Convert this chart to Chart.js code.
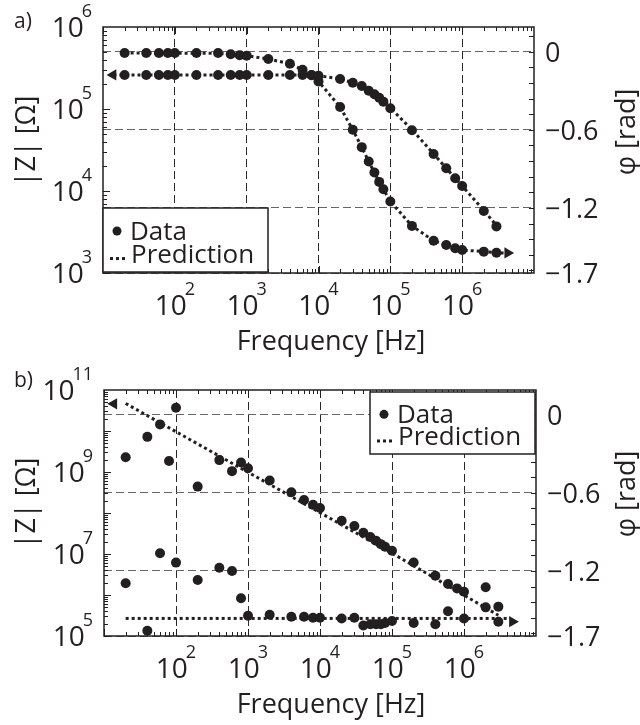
<!DOCTYPE html>
<html>
<head>
<meta charset="utf-8">
<title>Impedance spectra</title>
<script src="https://cdn.jsdelivr.net/npm/chart.js@4.4.1/dist/chart.umd.min.js"></script>
<style>
  body { margin: 0; background: #fff; }
  canvas { display: block; }
</style>
</head>
<body>
<canvas id="chartA" width="640" height="362"></canvas>
<canvas id="chartB" width="640" height="363"></canvas>
<script>
// measured frequencies (same sweep for both panels)
const freq = [20, 40, 60, 80, 100, 200, 400, 600, 800, 1e3, 2e3, 4e3, 6e3, 8e3, 1e4,
              2e4, 3e4, 4e4, 5e4, 6e4, 7e4, 8e4, 1e5, 2e5, 4e5, 6e5, 8e5, 1e6, 2e6, 3e6];

// panel a) data
const magA = [2.6e5, 2.6e5, 2.6e5, 2.6e5, 2.6e5, 2.6e5, 2.6e5, 2.6e5, 2.6e5, 2.6e5, 2.6e5, 2.6e5, 2.6e5, 2.6e5, 2.55e5,
              2.32e5, 2.09e5, 1.91e5, 1.67e5, 1.51e5, 1.37e5, 1.23e5, 1.02e5, 5.5e4, 2.83e4, 1.89e4, 1.43e4, 1.15e4, 5.7e3, 3.7e3];
const phaseA = [-0.01, -0.01, -0.01, -0.01, -0.01, -0.01, -0.01, -0.02, -0.027, -0.03, -0.056, -0.092, -0.138, -0.18, -0.228,
                -0.425, -0.6, -0.733, -0.844, -0.928, -1.0, -1.056, -1.151, -1.338, -1.452, -1.485, -1.51, -1.523, -1.536, -1.544];

// panel a) prediction
const predMagFreqA = [14, 1e3, 8e3, 1e4, 2e4, 3e4, 4e4, 5e4, 6e4, 7e4, 8e4, 1e5, 2e5, 4e5, 6e5, 8e5, 1e6, 2e6, 3e6];
const predMagA = [2.6e5, 2.6e5, 2.6e5, 2.55e5, 2.32e5, 2.1e5, 1.9e5, 1.68e5, 1.5e5, 1.37e5, 1.24e5, 1.03e5, 5.6e4, 2.85e4, 1.9e4, 1.43e4, 1.15e4, 5.8e3, 3.8e3];
const predPhaseFreqA = [20, 400, 1e3, 2e3, 4e3, 6e3, 8e3, 1e4, 2e4, 3e4, 4e4, 5e4, 6e4, 7e4, 8e4, 1e5, 2e5, 4e5, 6e5, 8e5, 1e6, 2e6, 3e6, 4e6];
const predPhaseA = [-0.01, -0.012, -0.03, -0.056, -0.092, -0.138, -0.18, -0.228, -0.425, -0.6, -0.733, -0.844, -0.928, -1.0, -1.056, -1.151,
                    -1.338, -1.452, -1.485, -1.51, -1.523, -1.536, -1.544, -1.548];

// panel b) data
const magB = [2.28e9, 7.2e9, 1.45e10, 1.86e9, 3.7e10, 4.4e8, 1.95e9, 1.05e9, 1.7e9, 1.23e9, 6.2e8, 3.2e8, 2.08e8, 1.58e8, 1.32e8,
              6.5e7, 4.8e7, 3.3e7, 2.6e7, 2.1e7, 1.74e7, 1.5e7, 1.2e7, 6.2e6, 2.95e6, 1.86e6, 1.45e6, 1.2e6, 5.0e5, 5.2e5];
const phaseB = [-1.295, -1.66, -1.064, null, -1.136, -1.27, -1.175, -1.2, -1.41, -1.544, -1.537, -1.552, -1.552, -1.56, -1.56,
                -1.565, -1.56, -1.62, -1.61, -1.61, -1.61, -1.6, -1.585, -1.6, -1.61, -1.51, null, -1.565, -1.325, -1.59];

// panel b) prediction
const predMagFreqB = [20, 1e5, 3e6];
const predMagB = [4.7e10, 1.05e7, 3.2e5];
const predPhaseFreqB = [20, 4e6];
const predPhaseB = [-1.565, -1.565];

// axis ticks
const xDecades = [1e2, 1e3, 1e4, 1e5, 1e6];
const xExp = [2, 3, 4, 5, 6];
const zExpA = [3, 4, 5, 6];
const zExpB = [5, 7, 9, 11];
const phaseTicks = [0, -0.6, -1.2, -1.7];
const phaseLabels = ['0', '\u22120.6', '\u22121.2', '\u22121.7'];

const FONT = '"Open Sans", "DejaVu Sans", sans-serif';
const INK = '#231f20';

function pts(xs, ys) {
  return xs.map((f, i) => ({ x: f, y: ys[i] })).filter(p => p.y !== null);
}

function powLabel(ctx, exp, x, base, align) {
  ctx.font = '28px ' + FONT;
  const w10 = ctx.measureText('10').width;
  ctx.font = '18px ' + FONT;
  const ws = ctx.measureText(String(exp)).width;
  const tot = w10 + ws - 2;
  const x0 = align === 'right' ? x - tot : x - tot / 2;
  ctx.textAlign = 'left';
  ctx.textBaseline = 'alphabetic';
  ctx.font = '28px ' + FONT;
  ctx.fillText('10', x0, base);
  ctx.font = '18px ' + FONT;
  ctx.fillText(String(exp), x0 + w10 - 2, base - 20);
}

function seg(ctx, x1, y1, x2, y2) {
  ctx.beginPath(); ctx.moveTo(x1, y1); ctx.lineTo(x2, y2); ctx.stroke();
}

function decor(o) {
  return {
    id: 'decor',
    afterDraw(chart) {
      const { ctx, chartArea: a, scales } = chart;
      const x = scales.x, yl = scales.yL, yr = scales.yR;
      ctx.save();
      ctx.fillStyle = INK;
      ctx.strokeStyle = INK;

      // tick marks, inward
      ctx.lineWidth = 1;
      for (let e = 1; e < 7; e++) {
        for (let m = 1; m < 10; m++) {
          const px = Math.round(x.getPixelForValue(m * Math.pow(10, e))) + 0.5;
          const len = m === 1 ? 7 : 4;
          seg(ctx, px, a.bottom, px, a.bottom - len);
          seg(ctx, px, a.top, px, a.top + len);
        }
      }
      for (let e = Math.log10(yl.min); e < Math.log10(yl.max); e++) {
        for (let m = 1; m < 10; m++) {
          const py = Math.round(yl.getPixelForValue(m * Math.pow(10, e))) + 0.5;
          seg(ctx, a.left, py, a.left + (m === 1 ? 7 : 4), py);
        }
      }
      for (let k = 1; k >= -14; k--) {
        const py = Math.round(yr.getPixelForValue(k * 0.12)) + 0.5;
        seg(ctx, a.right, py, a.right - 5, py);
      }

      // frame
      ctx.lineWidth = 1.5;
      ctx.strokeRect(a.left, a.top, a.right - a.left, a.bottom - a.top);

      // x tick labels
      xDecades.forEach((v, i) => powLabel(ctx, xExp[i], x.getPixelForValue(v), a.bottom + 42, 'center'));
      // left tick labels
      o.zExp.forEach(e => powLabel(ctx, e, a.left - 11, yl.getPixelForValue(Math.pow(10, e)) + 10, 'right'));
      // right tick labels
      ctx.font = '27px ' + FONT;
      ctx.textAlign = 'left';
      ctx.textBaseline = 'alphabetic';
      phaseTicks.forEach((v, i) => ctx.fillText(phaseLabels[i], a.right + 11, yr.getPixelForValue(v) + 10));

      // axis titles
      ctx.textAlign = 'center';
      ctx.fillText('Frequency [Hz]', 331, a.bottom + 77);
      ctx.textBaseline = 'middle';
      ctx.save();
      ctx.translate(27, o.zTitleY);
      ctx.rotate(-Math.PI / 2);
      ctx.fillText('|Z| [\u03A9]', 0, 0);
      ctx.restore();
      ctx.save();
      ctx.translate(627, o.phTitleY);
      ctx.rotate(-Math.PI / 2);
      ctx.fillText('\u03C6 [rad]', 0, 0);
      ctx.restore();

      // panel label
      ctx.font = '21px ' + FONT;
      ctx.textAlign = 'left';
      ctx.textBaseline = 'alphabetic';
      ctx.fillText(o.panel, 14, o.panelY);

      // legend
      const L = o.legend;
      ctx.fillStyle = '#fff';
      ctx.fillRect(L.x, L.y, L.w, L.h);
      ctx.lineWidth = 1.5;
      ctx.strokeRect(L.x, L.y, L.w, L.h);
      ctx.fillStyle = INK;
      ctx.beginPath();
      ctx.arc(L.x + 14, L.y + L.h * 0.36, 4.5, 0, Math.PI * 2);
      ctx.fill();
      for (let k = 0; k < 3; k++) ctx.fillRect(L.x + 7 + k * 6, L.y + L.h * 0.79 - 1.5, 3, 3);
      ctx.font = '26px ' + FONT;
      ctx.fillText('Data', L.x + 27, L.y + L.h * 0.36 + 9);
      ctx.fillText('Prediction', L.x + 28, L.y + L.h * 0.79 + 4);
      ctx.restore();
    }
  };
}

function datasets(mag, phase, pmf, pm, ppf, pp, arrows) {
  const dot = { showLine: false, pointRadius: 5, pointBackgroundColor: INK, pointBorderWidth: 0, pointHoverRadius: 5 };
  const pred = { showLine: true, pointRadius: 0, borderColor: INK, borderWidth: 3, borderDash: [3, 3], fill: false };
  return [
    Object.assign({ label: 'Data |Z|', data: pts(freq, mag), yAxisID: 'yL' }, dot),
    Object.assign({ label: 'Data phase', data: pts(freq, phase), yAxisID: 'yR' }, dot),
    { label: 'arrow |Z|', data: [arrows[0]], yAxisID: 'yL', pointStyle: 'triangle', pointRotation: -90,
      pointRadius: 6.5, pointBackgroundColor: INK, pointBorderWidth: 0, showLine: false },
    { label: 'arrow phase', data: [arrows[1]], yAxisID: 'yR', pointStyle: 'triangle', pointRotation: 90,
      pointRadius: 6.5, pointBackgroundColor: INK, pointBorderWidth: 0, showLine: false },
    Object.assign({ label: 'Prediction |Z|', data: pts(pmf, pm), yAxisID: 'yL' }, pred),
    Object.assign({ label: 'Prediction phase', data: pts(ppf, pp), yAxisID: 'yR' }, pred)
  ];
}

function scalesFor(zMin, zMax) {
  return {
    x: {
      type: 'logarithmic', min: 10, max: 1e7,
      afterBuildTicks: s => { s.ticks = xDecades.map(v => ({ value: v })); },
      ticks: { display: false },
      grid: { color: '#2a2a2a', lineWidth: 1, drawTicks: false },
      border: { display: false, dash: [8, 4] }
    },
    yL: {
      type: 'logarithmic', position: 'left', min: zMin, max: zMax,
      ticks: { display: false },
      grid: { display: false, drawTicks: false },
      border: { display: false }
    },
    yR: {
      type: 'linear', position: 'right', min: -1.7, max: 0.19,
      afterBuildTicks: s => { s.ticks = phaseTicks.map(v => ({ value: v })); },
      ticks: { display: false },
      grid: { color: '#666', lineWidth: 1, drawTicks: false },
      border: { display: false, dash: [8, 4] }
    }
  };
}

function makeChart(id, ds, scales, pad, deco) {
  return new Chart(document.getElementById(id), {
    type: 'scatter',
    data: { datasets: ds },
    options: {
      responsive: false,
      animation: false,
      layout: { padding: pad, autoPadding: false },
      scales: scales,
      plugins: { legend: { display: false }, tooltip: { enabled: false } }
    },
    plugins: [decor(deco)]
  });
}

makeChart('chartA',
  datasets(magA, phaseA, predMagFreqA, predMagA, predPhaseFreqA, predPhaseA,
           [{ x: 13.8, y: 2.6e5 }, { x: 4.3e6, y: -1.546 }]),
  scalesFor(1e3, 1e6),
  { left: 103, top: 27, right: 106, bottom: 89 },
  { panel: 'a)', panelY: 28, zExp: zExpA, zTitleY: 141, phTitleY: 132,
    legend: { x: 103, y: 208, w: 165, h: 64 } });

makeChart('chartB',
  datasets(magB, phaseB, predMagFreqB, predMagB, predPhaseFreqB, predPhaseB,
           [{ x: 13.7, y: 4.6e10 }, { x: 4.7e6, y: -1.59 }]),
  scalesFor(1e5, 1e11),
  { left: 104, top: 28, right: 104, bottom: 89 },
  { panel: 'b)', panelY: 25, zExp: zExpB, zTitleY: 141, phTitleY: 132,
    legend: { x: 370, y: 30, w: 165, h: 62 } });
</script>
</body>
</html>
